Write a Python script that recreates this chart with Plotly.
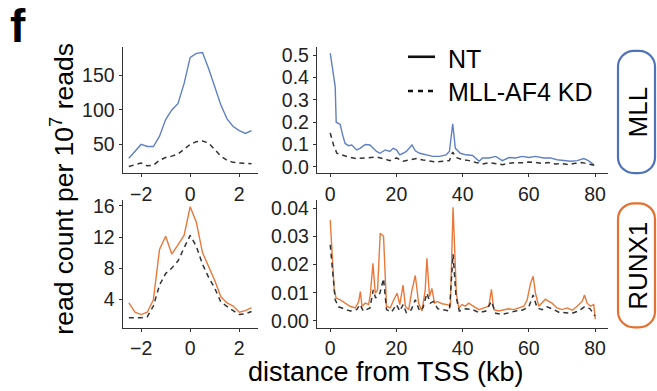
import plotly.graph_objects as go

W, H = 657, 391
FONT = "Liberation Sans, Arial, Helvetica, sans-serif"
BLUE = "#5f80c4"
ORANGE = "#e8793a"
DARK = "#333333"

# ---------------- data ----------------
tss_x = [-2.5, -2.25, -2.0, -1.75, -1.5, -1.25, -1.0, -0.75, -0.5, -0.25, 0.0,
         0.25, 0.5, 0.75, 1.0, 1.25, 1.5, 1.75, 2.0, 2.25, 2.5]
mll_tss_nt = [30, 40, 50, 47, 47, 62, 86, 100, 109, 138, 176,
              182, 183, 160, 132, 107, 87, 76, 70, 66, 70]
mll_tss_kd = [18, 21, 23, 19, 20, 27, 31, 33, 36, 43, 50,
              54, 55, 52, 42, 33, 27, 24, 23, 22, 22]
runx1_tss_nt = [3.5, 2.3, 2.0, 2.3, 3.9, 10.4, 12.1, 9.8, 11.0, 12.2, 15.9,
                13.9, 10.0, 8.2, 6.4, 4.3, 3.5, 3.1, 2.3, 2.5, 2.9]
runx1_tss_kd = [1.6, 1.6, 1.6, 1.7, 3.1, 5.8, 7.3, 8.0, 8.9, 10.6, 12.2,
                10.8, 8.5, 6.8, 5.4, 3.6, 3.0, 2.5, 2.0, 2.1, 2.4]

mll_far_nt_x = [0, 1.5, 1.8, 3, 3.8, 4.5, 5.5, 6.5, 8, 9, 10.6, 12, 13, 14, 15, 16.6,
                18, 19, 20, 21, 22, 23, 24.7, 25.7, 27, 29, 31, 33, 35, 36, 37, 37.8,
                39.3, 41, 43, 45, 46, 48, 50, 52, 54, 56, 58, 60, 62, 64.5, 66.5, 68.5,
                70.6, 72.6, 74.6, 76.6, 78, 79.6]
mll_far_nt = [0.51, 0.36, 0.20, 0.19, 0.14, 0.105, 0.095, 0.098, 0.076, 0.083, 0.10,
              0.098, 0.083, 0.069, 0.061, 0.076, 0.069, 0.083, 0.076, 0.054, 0.061,
              0.069, 0.098, 0.072, 0.061, 0.054, 0.047, 0.047, 0.054, 0.069, 0.193,
              0.083, 0.061, 0.054, 0.051, 0.025, 0.040, 0.040, 0.047, 0.028, 0.042,
              0.040, 0.047, 0.042, 0.047, 0.040, 0.040, 0.032, 0.028, 0.025, 0.028,
              0.037, 0.028, 0.010]
mll_far_kd_x = [0, 1, 2, 4, 6, 8, 10, 12, 14, 16, 18, 20, 22, 24, 26, 28, 30, 32, 34,
                36, 37, 38, 40, 42, 44, 46, 48, 50, 52, 54, 56, 58, 60, 62, 64, 66, 68,
                70, 72, 74, 76, 78, 80]
mll_far_kd = [0.152, 0.098, 0.061, 0.051, 0.042, 0.037, 0.040, 0.042, 0.044, 0.037,
              0.028, 0.040, 0.025, 0.031, 0.037, 0.031, 0.025, 0.022, 0.025, 0.028,
              0.066, 0.042, 0.032, 0.028, 0.020, 0.013, 0.019, 0.016, 0.010, 0.016,
              0.019, 0.018, 0.022, 0.020, 0.016, 0.019, 0.013, 0.015, 0.010, 0.016,
              0.019, 0.013, 0.006]

runx1_far_nt_x = [0, 0.5, 1.2, 1.8, 3, 4.5, 6, 7.6, 8.6, 9.1, 9.6, 10.6, 11.6, 12.1,
                  12.9, 13.6, 14.3, 15.1, 16.1, 17, 18.1, 19.2, 20.2, 21, 22, 22.7,
                  23.7, 24.7, 25.7, 26.7, 27.7, 28.7, 29.2, 30, 30.7, 31.5, 32.3, 33.8,
                  35.3, 36.3, 37.1, 38.1, 38.8, 39.8, 40.8, 41.8, 43.3, 44.9, 46.4,
                  47.9, 48.7, 49.4, 50.9, 52.4, 53.9, 55.4, 56.9, 58.5, 59.5, 60.5,
                  61.3, 62, 63, 64, 65, 66, 67, 68.5, 70, 71.6, 73.1, 74.6, 76.1, 76.8,
                  77.6, 78.6, 79.6, 80.1]
runx1_far_nt = [0.0357, 0.0248, 0.011, 0.0081, 0.0075, 0.0063, 0.0052, 0.0046, 0.0069,
                0.0104, 0.0052, 0.0063, 0.0058, 0.0092, 0.0204, 0.0098, 0.011, 0.0311,
                0.030, 0.0052, 0.0046, 0.0075, 0.0098, 0.0058, 0.0127, 0.0052, 0.004,
                0.011, 0.0161, 0.0063, 0.0035, 0.011, 0.0222, 0.0086, 0.0115, 0.0063,
                0.0069, 0.0061, 0.0058, 0.0052, 0.0403, 0.0098, 0.0046, 0.0058, 0.0052,
                0.0063, 0.0052, 0.004, 0.0046, 0.0052, 0.0112, 0.004, 0.0035, 0.0038,
                0.0043, 0.004, 0.0046, 0.0052, 0.0075, 0.0133, 0.0158, 0.0098, 0.0052,
                0.0063, 0.0077, 0.0069, 0.0063, 0.0046, 0.004, 0.0046, 0.0038, 0.0052,
                0.0069, 0.0092, 0.0063, 0.0052, 0.0058, 0.0006]
runx1_far_kd_x = [0, 0.7, 1.5, 2.5, 4, 6, 8, 9, 10, 11, 12, 13, 13.7, 15, 16.1, 17,
                  18.5, 20, 21, 22, 23, 24.5, 25.7, 27, 28, 29.2, 30.2, 31.2, 32.5, 34,
                  36, 37.1, 38, 39, 41, 43, 45, 47, 48.7, 50, 52, 54, 56, 58, 60, 61.3,
                  62.5, 64, 65.5, 67, 69, 71, 73, 75, 76.8, 78.5, 80]
runx1_far_kd = [0.027, 0.0167, 0.0075, 0.005, 0.0043, 0.0035, 0.004, 0.0058, 0.0035,
                0.004, 0.0046, 0.011, 0.0081, 0.0098, 0.015, 0.004, 0.0031, 0.0058,
                0.0035, 0.0058, 0.0029, 0.004, 0.0075, 0.0035, 0.0046, 0.0098, 0.0063,
                0.0069, 0.0043, 0.004, 0.0035, 0.0236, 0.0086, 0.0035, 0.0043, 0.004,
                0.0029, 0.0035, 0.0069, 0.0027, 0.0023, 0.0029, 0.0035, 0.0038, 0.005,
                0.0092, 0.0046, 0.004, 0.005, 0.0043, 0.0031, 0.0029, 0.0027, 0.0035,
                0.005, 0.0043, 0.0017]

series_names = ["NT", "MLL-AF4 KD"]
strip_labels = ["MLL", "RUNX1"]

# ---------------- figure ----------------
def px(x):
    return x / W

def py(y):
    return 1 - y / H

fig = go.Figure()

def add_pair(xa, ya, xn, yn, xk, yk, color):
    fig.add_trace(go.Scatter(x=xn, y=yn, mode="lines", xaxis=xa, yaxis=ya,
                             line=dict(color=color, width=1.4), showlegend=False,
                             name=series_names[0]))
    fig.add_trace(go.Scatter(x=xk, y=yk, mode="lines", xaxis=xa, yaxis=ya,
                             line=dict(color=DARK, width=1.5, dash="5px,4px"),
                             showlegend=False, name=series_names[1]))

add_pair("x", "y", tss_x, mll_tss_nt, tss_x, mll_tss_kd, BLUE)
add_pair("x2", "y2", mll_far_nt_x, mll_far_nt, mll_far_kd_x, mll_far_kd, BLUE)
add_pair("x3", "y3", tss_x, runx1_tss_nt, tss_x, runx1_tss_kd, ORANGE)
add_pair("x4", "y4", runx1_far_nt_x, runx1_far_nt, runx1_far_kd_x, runx1_far_kd, ORANGE)

axbase = dict(showline=True, linecolor=DARK, linewidth=1.3, ticks="outside",
              ticklen=3, tickwidth=1.2, tickcolor=DARK, showgrid=False,
              zeroline=False, tickfont=dict(family=FONT, size=19.5, color="#222222"),
              fixedrange=True)

left_dom = [px(122.7), px(257.7)]
right_dom = [px(317), px(608.3)]
top_dom = [py(172.3), py(42.8)]
bot_dom = [py(330.3), py(200)]

fig.update_layout(
    xaxis=dict(axbase, domain=left_dom, anchor="y", range=[-2.75, 2.75],
               tickvals=[-2, 0, 2]),
    yaxis=dict(axbase, domain=top_dom, anchor="x", range=[8.1, 191.4],
               tickvals=[50, 100, 150]),
    xaxis2=dict(axbase, domain=right_dom, anchor="y2", range=[-4, 84],
                tickvals=[0, 20, 40, 60, 80]),
    yaxis2=dict(axbase, domain=top_dom, anchor="x2", range=[-0.029, 0.538],
                tickvals=[0, 0.1, 0.2, 0.3, 0.4, 0.5], tickformat=".1f"),
    xaxis3=dict(axbase, domain=left_dom, anchor="y3", range=[-2.75, 2.75],
                tickvals=[-2, 0, 2]),
    yaxis3=dict(axbase, domain=bot_dom, anchor="x3", range=[0.31, 16.72],
                tickvals=[4, 8, 12, 16]),
    xaxis4=dict(axbase, domain=right_dom, anchor="y4", range=[-4, 84],
                tickvals=[0, 20, 40, 60, 80]),
    yaxis4=dict(axbase, domain=bot_dom, anchor="x4", range=[-0.0024, 0.0427],
                tickvals=[0, 0.01, 0.02, 0.03, 0.04], tickformat=".2f"),
)

# strip boxes (rounded)
def rounded(x0, y0, x1, y1, r):
    k = 0.5523 * r
    pts = [
        f"M{px(x0 + r)},{py(y0)}",
        f"L{px(x1 - r)},{py(y0)}",
        f"C{px(x1 - r + k)},{py(y0)} {px(x1)},{py(y0 + r - k)} {px(x1)},{py(y0 + r)}",
        f"L{px(x1)},{py(y1 - r)}",
        f"C{px(x1)},{py(y1 - r + k)} {px(x1 - r + k)},{py(y1)} {px(x1 - r)},{py(y1)}",
        f"L{px(x0 + r)},{py(y1)}",
        f"C{px(x0 + r - k)},{py(y1)} {px(x0)},{py(y1 - r + k)} {px(x0)},{py(y1 - r)}",
        f"L{px(x0)},{py(y0 + r)}",
        f"C{px(x0)},{py(y0 + r - k)} {px(x0 + r - k)},{py(y0)} {px(x0 + r)},{py(y0)}",
        "Z",
    ]
    return " ".join(pts)

shapes = [
    dict(type="path", xref="paper", yref="paper", path=rounded(618, 47, 655, 172, 16),
         line=dict(color="#4f72b8", width=2.2)),
    dict(type="path", xref="paper", yref="paper", path=rounded(618, 203, 655, 330, 16),
         line=dict(color="#e4712f", width=2.2)),
    # legend keys
    dict(type="line", xref="paper", yref="paper", x0=px(408), x1=px(435),
         y0=py(53), y1=py(53), line=dict(color="#111111", width=2.6)),
    dict(type="line", xref="paper", yref="paper", x0=px(408), x1=px(437),
         y0=py(88), y1=py(88), line=dict(color="#111111", width=2.6, dash="5px,5px")),
]

ann = []
def text(x, y, t, size, xanchor="center", yanchor="middle", angle=0, bold=False,
         color="black"):
    ann.append(dict(x=px(x), y=py(y), xref="paper", yref="paper", text=t,
                    showarrow=False, xanchor=xanchor, yanchor=yanchor,
                    textangle=angle,
                    font=dict(family=FONT, size=size, color=color,
                              weight="bold" if bold else "normal")))

text(8, 22, "f", 46, xanchor="left", bold=True)
text(62, 188, "read count per 10<sup>7</sup> reads", 26.5, angle=-90)
text(386, 376, "distance from TSS (kb)", 27)
text(446, 55, series_names[0], 25, xanchor="left")
text(446, 89, series_names[1], 25, xanchor="left")
text(638, 110, strip_labels[0], 26, angle=-90)
text(638, 267, strip_labels[1], 26, angle=-90)

fig.update_layout(width=W, height=H, margin=dict(l=0, r=0, t=0, b=0),
                  paper_bgcolor="white", plot_bgcolor="white",
                  shapes=shapes, annotations=ann, showlegend=False,
                  font=dict(family=FONT))

fig.write_html("out.html", config={"displayModeBar": False},
               post_script="document.body.style.margin='0';document.body.style.overflow='hidden';")
